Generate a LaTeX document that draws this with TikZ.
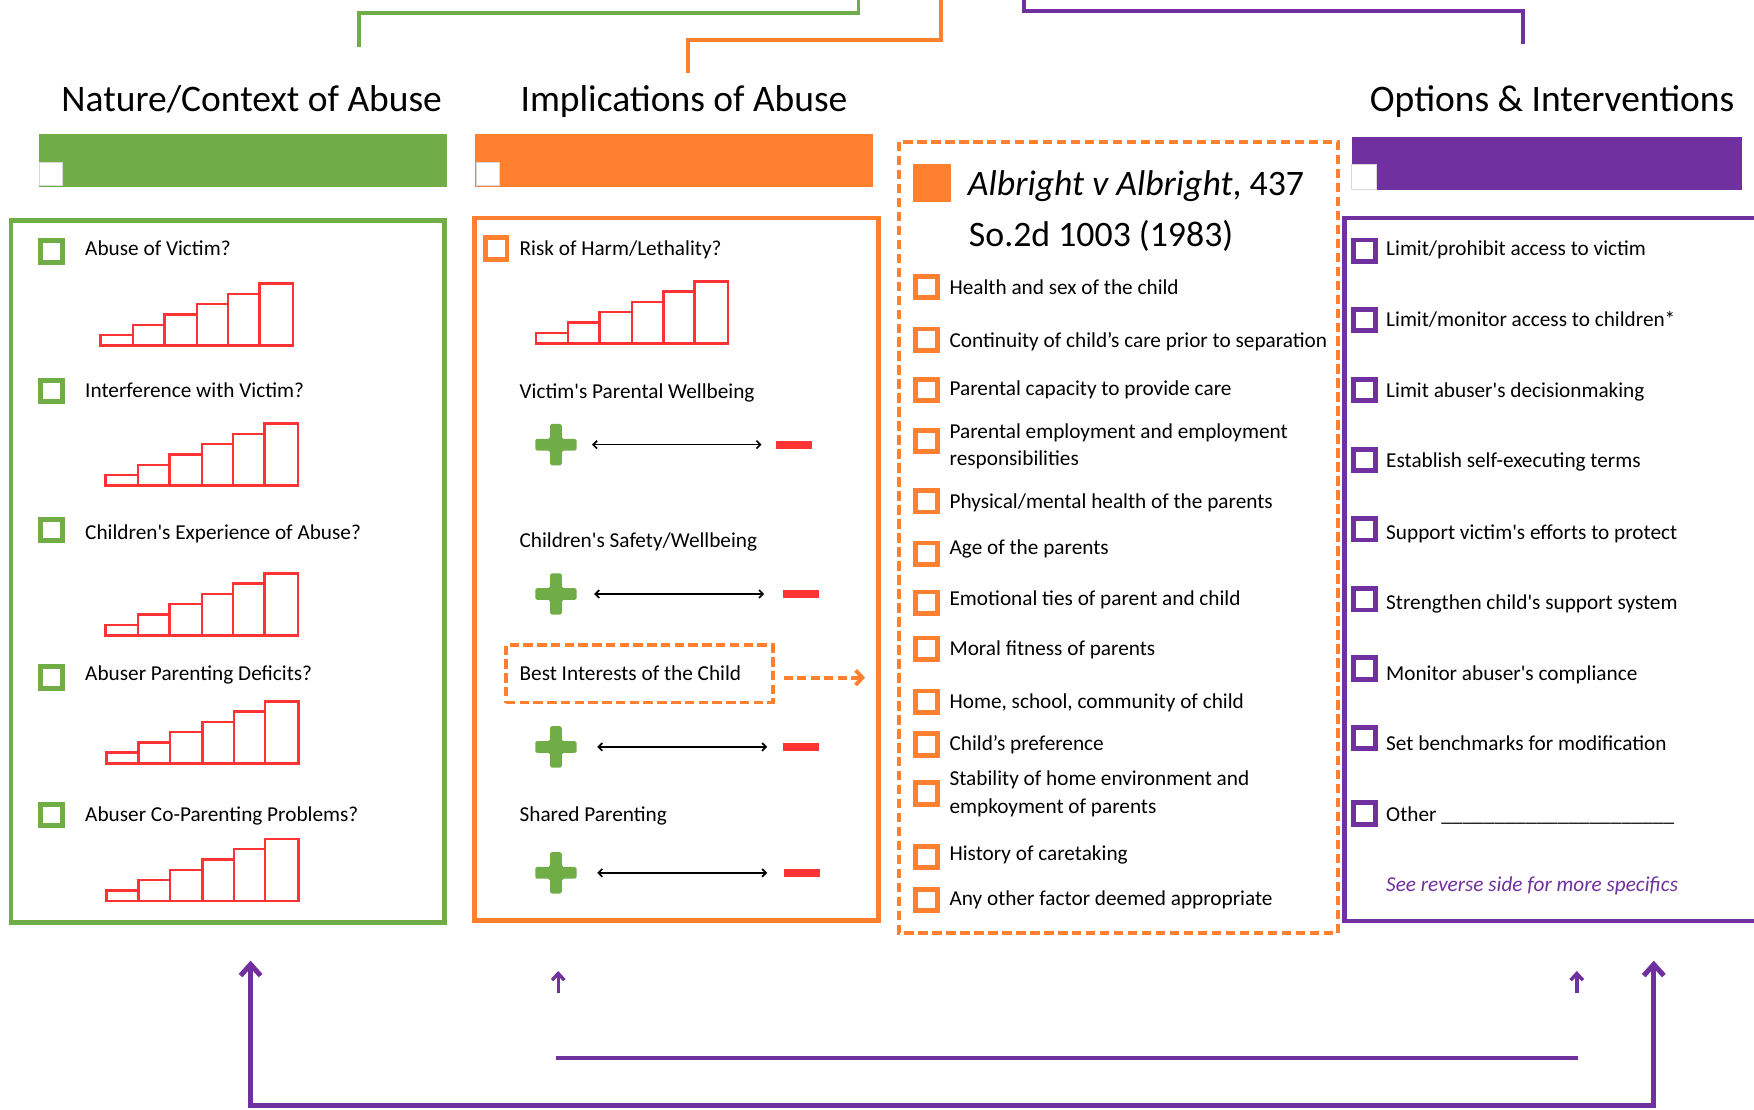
\documentclass[tikz,border=0pt]{standalone}
\usepackage{fontspec}
\setmainfont{Carlito}[Ligatures=TeXOff]
\usetikzlibrary{arrows.meta}
\definecolor{cgreen}{HTML}{70AD47}
\definecolor{corange}{HTML}{FF802F}
\definecolor{cpurple}{HTML}{7030A0}
\definecolor{cred}{HTML}{FF3333}
\newcommand\stairchart[2]{%
  \foreach \a/\b/\h in {0/29/9.5,29/57/18.7,57/86/27.9,86/114/37.1,114/142/46.3,142/172/55.5}
    {\draw[barline,shift={(#1,#2)}] (\a,0) rectangle (\b,-\h);}}
\begin{document}
\begin{tikzpicture}[x=1pt,y=-1pt,
  txt/.style={anchor=base west,inner sep=0pt,font=\fontsize{19}{23}\selectfont},
  head/.style={anchor=base,inner sep=0pt,font=\fontsize{33.5}{40}\selectfont},
  cbox/.style={draw=#1,line width=4.3pt,minimum size=19.3pt,inner sep=0pt,fill=white},
  barline/.style={draw=cred,line width=2.2pt},
  plusnode/.style={minimum size=37pt,inner sep=0pt,
    path picture={\fill[cgreen,rounded corners=1.5pt,shift={(path picture bounding box.center)}]
      (-5.25,-18.5) -- (5.25,-18.5) -- (5.25,-5.25) -- (18.5,-5.25) -- (18.5,5.25) -- (5.25,5.25)
      -- (5.25,18.5) -- (-5.25,18.5) -- (-5.25,5.25) -- (-18.5,5.25) -- (-18.5,-5.25) -- (-5.25,-5.25) -- cycle;}},
  minusnode/.style={fill=cred,minimum width=32pt,minimum height=7pt,inner sep=0pt},
  dbl/.style={black,line width=1.5pt,{Straight Barb[length=3.5pt,width=7pt]}-{Straight Barb[length=3.5pt,width=7pt]}},
  whitesq/.style={fill=white,draw=white!85!black,line width=0.6pt},
  connector/.style={line width=3.5pt},
  bigarrow/.style={cpurple,line width=4.5pt,{Straight Barb[length=10pt,width=18pt]}-{Straight Barb[length=10pt,width=18pt]}},
  smallarrow/.style={cpurple,line width=3pt,-{Straight Barb[length=6pt,width=11pt]}}
]
\fill[white] (0,0) rectangle (1568,992);
\useasboundingbox (0,0) rectangle (1568,992);

% ---------- top connectors ----------
\coordinate (gA) at (320.8,42);   \coordinate (gB) at (320.8,11.5);
\coordinate (gC) at (767.5,11.5); \coordinate (gD) at (767.5,-3);
\draw[cgreen,connector,line width=3pt] (gA) -- (gB) -- (gC) -- (gD);
\coordinate (oA) at (614.8,65.5); \coordinate (oB) at (614.8,35.6);
\coordinate (oC) at (841,35.6);   \coordinate (oD) at (841,-3);
\draw[corange,connector] (oA) -- (oB) -- (oC) -- (oD);
\coordinate (pA) at (915.5,-3);   \coordinate (pB) at (915.5,10.1);
\coordinate (pC) at (1361.7,10.1);\coordinate (pD) at (1361.7,39.6);
\draw[cpurple,connector] (pA) -- (pB) -- (pC) -- (pD);

% ---------- headings ----------
\node[head] (h1) at (225,100) {Nature/Context of Abuse};
\node[head] (h2) at (611.5,100) {Implications of Abuse};
\node[head] (h3) at (1387.5,100) {Options \& Interventions};

% ---------- coloured bars ----------
\fill[cgreen] (34.9,119.8) rectangle (399.3,166.9);
\filldraw[whitesq] (34.9,145.1) rectangle (55.4,165.4);
\fill[corange] (424.9,119.8) rectangle (780,166.9);
\filldraw[whitesq] (426,145.1) rectangle (446.5,165.4);
\fill[cpurple] (1208.3,122.2) rectangle (1557.1,169.9);
\filldraw[whitesq] (1208.3,146.9) rectangle (1230.1,169.2);

% ---------- main boxes ----------
\draw[cgreen,line width=4pt] (10,197) rectangle (397.5,824.8);
\draw[corange,line width=4pt] (424,195) rectangle (785.5,823);
\draw[corange,line width=3.5pt,dash pattern=on 8.5pt off 4pt] (803.5,126.7) rectangle (1195.7,834.4);
\draw[cpurple,line width=3.8pt] (1572,195) -- (1202,195) -- (1202,823) -- (1572,823);

% ---------- green column ----------
\node[cbox=cgreen] (g1) at (45.9,225) {};
\node[cbox=cgreen] (g2) at (45.9,349.6) {};
\node[cbox=cgreen] (g3) at (45.9,473.8) {};
\node[cbox=cgreen] (g4) at (45.9,605.5) {};
\node[cbox=cgreen] (g5) at (45.9,728.6) {};
\node[txt] (gt1) at (76,228.6) {Abuse of Victim?};
\node[txt] (gt2) at (76,355.2) {Interference with Victim?};
\node[txt] (gt3) at (76,481.9) {Children's Experience of Abuse?};
\node[txt] (gt4) at (76,607.9) {Abuser Parenting Deficits?};
\node[txt] (gt5) at (76,734.5) {Abuser Co-Parenting Problems?};
\stairchart{90}{309}
\stairchart{94.5}{434.2}
\stairchart{94.5}{568}
\stairchart{95}{682.4}
\stairchart{95}{805.5}

% ---------- orange column ----------
\node[cbox=corange] (o1) at (443.5,222) {};
\node[txt] (ot1) at (464.3,228.6) {Risk of Harm/Lethality?};
\stairchart{479}{307}
\node[txt] (ot2) at (464.3,356) {Victim's Parental Wellbeing};
\node[txt] (ot3) at (464.3,489.3) {Children's Safety/Wellbeing};
\node[draw=corange,line width=3.5pt,dash pattern=on 8.5pt off 3.8pt,minimum width=238.5pt,minimum height=51.4pt,inner sep=0pt] (bi) at (571.5,602.3) {};
\node[txt] (ot4) at (464.3,608) {Best Interests of the Child};
\node[txt] (ot5) at (464.3,734.5) {Shared Parenting};
\coordinate (bistart) at (700.9,605.8);
\coordinate (biend) at (773.3,605.8);
\draw[corange,line width=3.5pt,dash pattern=on 8pt off 4pt,-{Straight Barb[length=6pt,width=13pt]}] (bistart) -- (biend);

\node[plusnode] (p1) at (497,397.5) {};
\node[minusnode] (m1) at (709.7,397.5) {};
\draw[dbl,shorten <=13.5pt,shorten >=12.7pt] (p1.east) -- (m1.west);
\node[plusnode] (p2) at (497,531) {};
\node[minusnode] (m2) at (716,531) {};
\draw[dbl,shorten <=15.5pt,shorten >=16.7pt] (p2.east) -- (m2.west);
\node[plusnode] (p3) at (497,667.7) {};
\node[minusnode] (m3) at (716.4,667.7) {};
\draw[dbl,shorten <=18.2pt,shorten >=14.4pt] (p3.east) -- (m3.west);
\node[plusnode] (p4) at (497,780.3) {};
\node[minusnode] (m4) at (717,780.3) {};
\draw[dbl,shorten <=18.2pt,shorten >=15pt] (p4.east) -- (m4.west);

% ---------- Albright column ----------
\fill[corange] (816,146.6) rectangle (850.2,180.3);
\node[anchor=base west,inner sep=0pt,font=\fontsize{32}{38}\selectfont] (al1) at (865.1,175) {\textit{Albright v Albright}, 437};
\node[anchor=base west,inner sep=0pt,font=\fontsize{32}{38}\selectfont] (al2) at (866,220.5) {So.2d 1003 (1983)};
\node[cbox=corange] (a1) at (828.4,256.6) {};
\node[cbox=corange] (a2) at (828.4,303.8) {};
\node[cbox=corange] (a3) at (828.4,348.7) {};
\node[cbox=corange] (a4) at (828.4,394.2) {};
\node[cbox=corange] (a5) at (828.4,448) {};
\node[cbox=corange] (a6) at (828.4,495.1) {};
\node[cbox=corange] (a7) at (828.4,538.9) {};
\node[cbox=corange] (a8) at (828.4,580) {};
\node[cbox=corange] (a9) at (828.4,627.3) {};
\node[cbox=corange] (a10) at (828.4,665.4) {};
\node[cbox=corange] (a11) at (828.4,709.5) {};
\node[cbox=corange] (a12) at (828.4,766.1) {};
\node[cbox=corange] (a13) at (828.4,804.5) {};
\node[txt] (at1) at (848.7,263.7) {Health and sex of the child};
\node[txt] (at2) at (848.7,310.5) {Continuity of child’s care prior to separation};
\node[txt] (at3) at (848.7,353.7) {Parental capacity to provide care};
\node[txt] (at4) at (848.7,391.8) {Parental employment and employment};
\node[txt] (at4b) at (848.7,415.7) {responsibilities};
\node[txt] (at5) at (848.7,454.4) {Physical/mental health of the parents};
\node[txt] (at6) at (848.7,495.3) {Age of the parents};
\node[txt] (at7) at (848.7,540.9) {Emotional ties of parent and child};
\node[txt] (at8) at (848.7,585.6) {Moral fitness of parents};
\node[txt] (at9) at (848.7,633.2) {Home, school, community of child};
\node[txt] (at10) at (848.7,670.5) {Child’s preference};
\node[txt] (at11) at (848.7,702.4) {Stability of home environment and};
\node[txt] (at11b) at (848.7,727.1) {empkoyment of parents};
\node[txt] (at12) at (848.7,768.8) {History of caretaking};
\node[txt] (at13) at (848.7,809.7) {Any other factor deemed appropriate};

% ---------- purple column ----------
\node[cbox=cpurple] (q1) at (1219.7,224.2) {};
\node[cbox=cpurple] (q2) at (1219.7,286) {};
\node[cbox=cpurple] (q3) at (1219.7,348.7) {};
\node[cbox=cpurple] (q4) at (1219.7,411.2) {};
\node[cbox=cpurple] (q5) at (1219.7,473.1) {};
\node[cbox=cpurple] (q6) at (1219.7,535.6) {};
\node[cbox=cpurple] (q7) at (1219.7,597.6) {};
\node[cbox=cpurple] (q8) at (1219.7,659.8) {};
\node[cbox=cpurple] (q9) at (1219.7,727.1) {};
\node[txt] (qt1) at (1239,228.6) {Limit/prohibit access to victim};
\node[txt] (qt2) at (1239,292) {Limit/monitor access to children*};
\node[txt] (qt3) at (1239,355.5) {Limit abuser's decisionmaking};
\node[txt] (qt4) at (1239,418.1) {Establish self-executing terms};
\node[txt] (qt5) at (1239,481.9) {Support victim's efforts to protect};
\node[txt] (qt6) at (1239,544.7) {Strengthen child's support system};
\node[txt] (qt7) at (1239,608.5) {Monitor abuser's compliance};
\node[txt] (qt8) at (1239,671.1) {Set benchmarks for modification};
\node[txt] (qt9) at (1239,734.6) {Other \_\_\_\_\_\_\_\_\_\_\_\_\_\_\_\_\_\_\_\_\_\_};
\node[txt,text=cpurple,font=\fontsize{19}{23}\selectfont\itshape] (qt10) at (1239,797.2) {See reverse side for more specifics};

% ---------- bottom arrows ----------
\coordinate (bL) at (224,858.8);
\coordinate (bLc) at (224,988.4);
\coordinate (bRc) at (1478.4,988.4);
\coordinate (bR) at (1478.4,858.8);
\draw[bigarrow] (bL) -- (bLc) -- (bRc) -- (bR);
\coordinate (s1a) at (499,888); \coordinate (s1b) at (499,868);
\draw[smallarrow] (s1a) -- (s1b);
\coordinate (s2a) at (1409.6,888); \coordinate (s2b) at (1409.6,868);
\draw[smallarrow] (s2a) -- (s2b);
\coordinate (hA) at (496.8,945.5); \coordinate (hB) at (1411,945.5);
\draw[cpurple,line width=3.6pt] (hA) -- (hB);
\end{tikzpicture}
\end{document}
